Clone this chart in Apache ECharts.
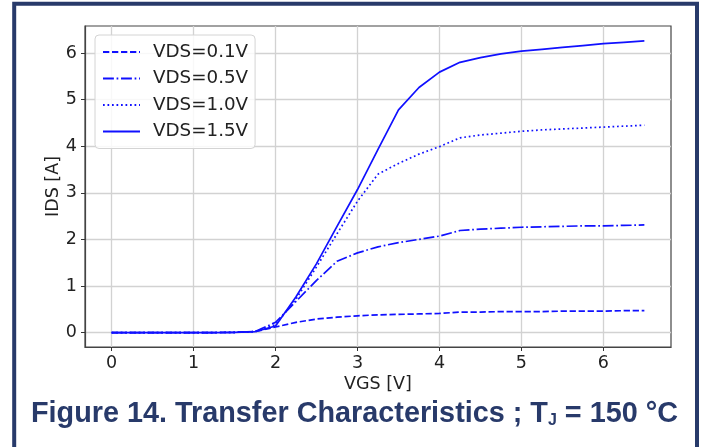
<!DOCTYPE html>
<html>
<head>
<meta charset="utf-8">
<script src="https://cdn.jsdelivr.net/npm/echarts@6/dist/echarts.min.js"></script>
<style>
html,body{margin:0;padding:0;background:#fff;}
#c{width:704px;height:447px;}
</style>
</head>
<body>
<div id="c"></div>
<script>
const vgs = [0,0.25,0.5,0.75,1,1.25,1.5,1.75,2,2.25,2.5,2.75,3,3.25,3.5,3.75,4,4.25,4.5,4.75,5,5.25,5.5,5.75,6,6.25,6.5];
const ids_vds01 = [0,0,0,0,0,0,0.005,0.02,0.12,0.22,0.29,0.33,0.36,0.38,0.39,0.40,0.41,0.44,0.44,0.45,0.45,0.45,0.46,0.46,0.46,0.47,0.47];
const ids_vds05 = [0,0,0,0,0,0,0.005,0.02,0.22,0.67,1.12,1.53,1.71,1.84,1.93,2.00,2.07,2.19,2.22,2.24,2.26,2.27,2.28,2.29,2.29,2.30,2.31];
const ids_vds10 = [0,0,0,0,0,0,0.005,0.02,0.17,0.72,1.41,2.12,2.82,3.40,3.63,3.83,3.99,4.18,4.24,4.28,4.32,4.35,4.37,4.39,4.41,4.43,4.45];
const ids_vds15 = [0,0,0,0,0,0,0.005,0.02,0.14,0.77,1.48,2.28,3.07,3.93,4.78,5.26,5.59,5.80,5.90,5.98,6.04,6.08,6.12,6.16,6.20,6.23,6.26];
const seriesNames = ['VDS=0.1V','VDS=0.5V','VDS=1.0V','VDS=1.5V'];
const xTicks = [0,1,2,3,4,5,6];
const yTicks = [0,1,2,3,4,5,6];
const titleMain = 'Figure 14. Transfer Characteristics ; T';
const titleSub = 'J';
const titleEnd = ' = 150 °C';

const font = 'DejaVu Sans';
const navy = '#283a6a';
const lw = 1.7;
const dashes = [[3.7*lw,1.6*lw],[6.4*lw,1.6*lw,1*lw,1.6*lw],[1*lw,1.65*lw],'solid'];
const datas = [ids_vds01, ids_vds05, ids_vds10, ids_vds15];

const chart = echarts.init(document.getElementById('c'), null, {renderer:'canvas'});
chart.setOption({
  animation:false,
  backgroundColor:'#fff',
  title:{
    text: '{m|' + titleMain + '}{s|' + titleSub + '}{m|' + titleEnd + '}',
    left: 31, top: 399,
    padding: 0,
    textStyle:{
      rich:{
        m:{fontFamily:'Liberation Sans', fontWeight:'bold', fontSize:28.8, color:navy, lineHeight:30, verticalAlign:'bottom'},
        s:{fontFamily:'Liberation Sans', fontWeight:'bold', fontSize:16, color:navy, lineHeight:30, verticalAlign:'bottom'}
      }
    }
  },
  graphic:[{
    type:'rect', silent:true, z:100,
    shape:{x:14.2, y:3.7, width:682.8, height:520},
    style:{fill:'none', stroke:navy, lineWidth:4}
  }],
  legend:{
    left:95, top:35, orient:'vertical',
    padding:[8,7,8,7],
    itemWidth:37, itemHeight:12, itemGap:8.5,
    itemStyle:{opacity:0},
    backgroundColor:'rgba(255,255,255,0.85)',
    borderColor:'#d4d4d4', borderWidth:1, borderRadius:4,
    textStyle:{fontFamily:font, fontSize:18.3, color:'#222', padding:[0,0,0,8]},
    data: seriesNames
  },
  grid:{left:85, top:26, width:586, height:321, show:true, borderColor:'#444', borderWidth:1.2, containLabel:false},
  xAxis:{
    type:'value', min:-0.325, max:6.825,
    name:'VGS [V]', nameLocation:'middle', nameGap:28, nameMoveOverlap:false,
    nameTextStyle:{fontFamily:font, fontSize:17.5, color:'#222'},
    axisLine:{show:true, onZero:false, lineStyle:{color:'#444', width:1.2}},
    axisTick:{show:true, inside:false, length:4, customValues:xTicks, lineStyle:{color:'#333'}},
    axisLabel:{customValues:xTicks, fontFamily:font, fontSize:17.5, color:'#222', margin:7},
    splitLine:{show:true, lineStyle:{color:'#d2d2d2', width:1.3}}
  },
  yAxis:{
    type:'value', min:-0.31, max:6.58,
    name:'IDS [A]', nameLocation:'middle', nameGap:23, nameRotate:90, nameMoveOverlap:false,
    nameTextStyle:{fontFamily:font, fontSize:17.5, color:'#222'},
    axisLine:{show:true, onZero:false, lineStyle:{color:'#444', width:1.2}},
    axisTick:{show:true, inside:false, length:4, customValues:yTicks, lineStyle:{color:'#333'}},
    axisLabel:{customValues:yTicks, fontFamily:font, fontSize:17.5, color:'#222', margin:8},
    splitLine:{show:true, lineStyle:{color:'#d2d2d2', width:1.3}}
  },
  series: seriesNames.map((n,i)=>({
    name:n, type:'line', symbol:'none', showSymbol:false,
    data: vgs.map((x,j)=>[x, datas[i][j]]),
    lineStyle:{color:'#1010ff', width:lw, type:dashes[i]},
    itemStyle:{color:'#1010ff'},
    z:3
  }))
});
</script>
</body>
</html>
